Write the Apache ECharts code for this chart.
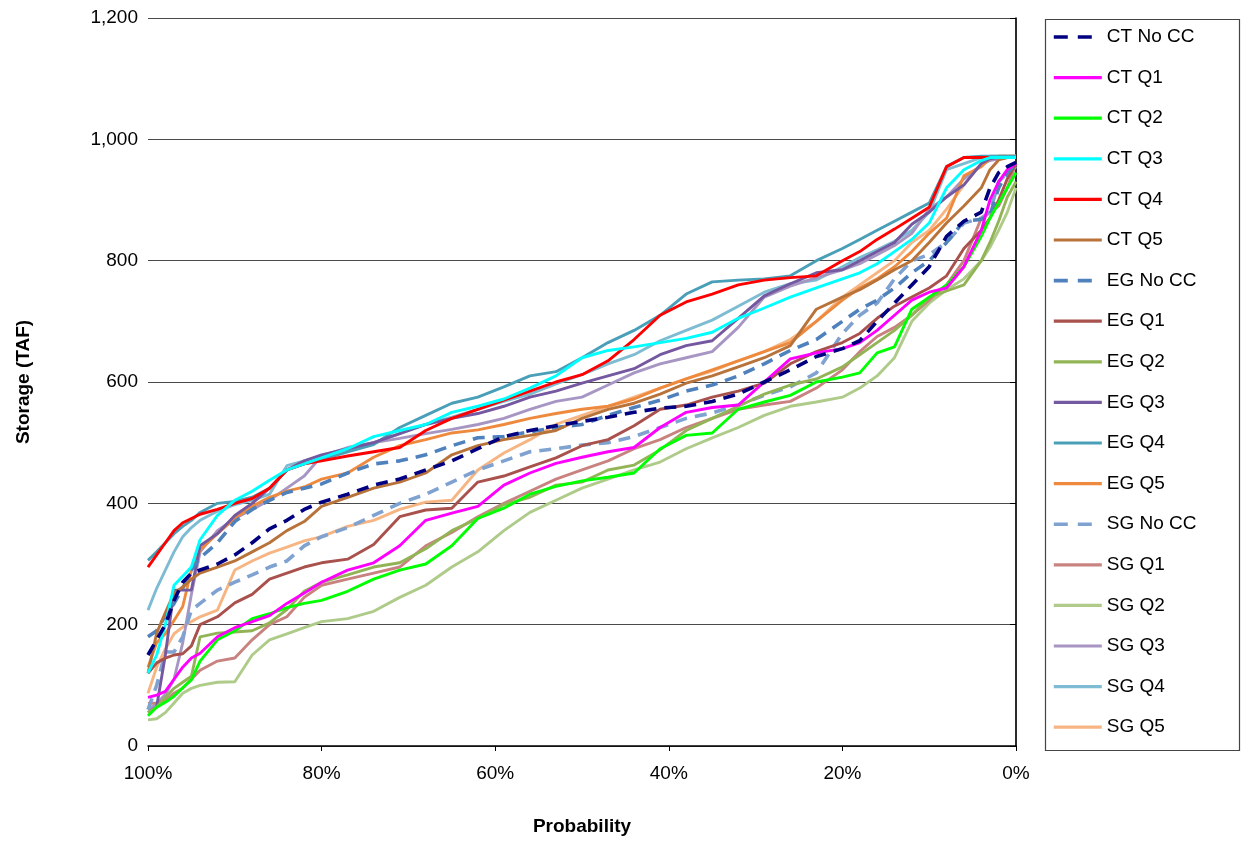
<!DOCTYPE html>
<html>
<head>
<meta charset="utf-8">
<script src="https://cdn.jsdelivr.net/npm/echarts@6/dist/echarts.min.js"></script>
<style>html,body{margin:0;padding:0;background:#fff}#c{width:1241px;height:847px}</style>
</head>
<body>
<div id="c"></div>
<script>
// Exceedance probability (%)
const probability = [100, 99, 98, 97, 96, 95, 94, 92, 90, 88, 86, 84, 82, 80, 77, 74, 71, 68, 65, 62, 59, 56, 53, 50, 47, 44, 41, 38, 35, 32, 29, 26, 23, 20, 18, 16, 14, 12, 10, 8, 6, 4, 3, 2, 1, 0];

const ctNoCC = [150,175,200,240,270,285,290,300,315,335,358,372,390,402,415,430,440,455,470,490,510,520,528,535,542,550,557,560,568,580,600,620,642,655,668,700,730,760,790,840,865,880,920,945,955,962];
const ctQ1 = [80,84,90,110,130,145,153,180,195,205,215,235,252,270,290,302,330,372,384,395,430,450,466,476,485,492,525,550,558,562,600,638,648,655,665,685,710,735,748,755,790,850,900,930,950,960];
const ctQ2 = [50,64,72,82,96,109,140,175,190,210,218,228,235,240,255,275,290,300,330,375,392,415,428,437,443,450,490,512,516,555,567,578,600,608,615,648,658,720,740,760,790,840,870,895,920,945];
const ctQ3 = [120,150,200,265,280,295,340,380,405,420,438,455,465,475,490,510,520,530,550,560,572,590,610,640,652,658,665,672,682,705,722,740,755,770,780,795,815,835,862,920,950,965,970,970,970,970];
const ctQ4 = [295,315,335,355,368,375,382,390,400,408,425,455,465,470,478,485,492,520,540,555,570,585,600,612,635,670,710,732,745,760,768,772,775,800,815,835,852,870,888,955,970,970,970,970,970,970];
const ctQ5 = [120,186,220,252,262,275,285,295,305,320,335,355,370,395,410,425,435,450,480,495,505,512,520,540,555,565,580,598,610,625,640,660,720,740,752,768,785,800,830,862,890,920,950,966,970,970];
const egNoCC = [180,190,215,235,260,290,310,335,370,390,405,418,425,432,450,465,470,480,495,508,510,518,525,530,545,558,570,585,595,610,630,652,670,700,720,735,755,780,800,830,865,868,875,920,945,960];
const egQ1 = [120,137,145,150,152,165,200,213,236,250,275,285,295,302,308,332,378,389,392,435,445,460,475,495,505,528,555,562,575,585,598,630,650,665,680,705,725,740,755,775,820,850,870,900,935,960];
const egQ2 = [55,64,80,95,105,115,180,186,188,190,203,225,255,270,282,295,302,325,355,375,398,410,430,435,455,463,488,520,540,560,580,595,605,625,645,665,685,710,740,750,760,800,830,865,905,930];
const egQ3 = [55,65,150,257,257,257,330,350,380,400,425,455,470,480,490,500,515,530,540,548,560,575,585,598,610,622,645,660,668,705,742,762,780,785,800,815,830,860,880,905,925,960,968,970,970,970];
const egQ4 = [306,320,335,350,362,372,385,400,403,410,425,455,465,472,485,497,525,545,565,575,592,610,617,640,665,685,710,745,765,768,770,775,800,820,835,850,865,880,895,955,970,972,972,972,972,972];
const egQ5 = [130,170,185,207,230,290,323,350,375,395,410,420,427,440,450,476,495,505,516,521,530,540,548,555,560,572,590,605,620,635,650,665,700,735,755,770,790,815,845,870,940,955,968,972,972,972];
const sgNoCC = [60,100,155,155,180,224,235,257,270,282,295,305,330,345,360,380,400,415,435,455,470,485,490,496,500,510,525,540,549,562,578,592,615,680,710,730,770,800,810,830,862,870,880,930,945,955];
const sgQ1 = [70,71,75,87,95,110,125,140,145,175,200,213,245,265,275,285,295,330,352,378,400,420,440,455,470,490,505,525,540,555,562,568,590,620,650,675,690,710,735,760,800,870,880,890,920,960];
const sgQ2 = [43,45,55,71,87,95,100,105,106,150,175,185,195,205,210,222,245,265,295,320,355,385,405,425,440,455,468,490,508,525,545,560,567,575,590,610,640,700,730,752,770,800,822,850,880,920];
const sgQ3 = [60,70,85,110,170,250,320,355,375,390,405,425,445,478,492,500,507,515,522,530,540,555,568,575,595,615,630,640,650,690,740,758,772,785,795,810,825,845,885,905,935,958,965,968,970,970];
const sgQ4 = [224,260,290,320,345,360,372,387,398,405,415,462,470,478,490,500,515,530,542,555,568,580,597,612,630,645,668,685,702,725,748,762,768,790,805,818,832,850,880,950,960,970,972,972,972,972];
const sgQ5 = [87,130,160,185,196,205,213,224,290,305,318,328,338,345,362,372,390,402,405,455,483,505,530,545,560,575,590,605,618,635,650,670,700,740,760,780,800,830,850,885,925,960,970,972,972,972];

const seriesNames = ['CT No CC','CT Q1','CT Q2','CT Q3','CT Q4','CT Q5','EG No CC','EG Q1','EG Q2','EG Q3','EG Q4','EG Q5','SG No CC','SG Q1','SG Q2','SG Q3','SG Q4','SG Q5'];
const seriesValues = [ctNoCC,ctQ1,ctQ2,ctQ3,ctQ4,ctQ5,egNoCC,egQ1,egQ2,egQ3,egQ4,egQ5,sgNoCC,sgQ1,sgQ2,sgQ3,sgQ4,sgQ5];
const seriesColors = ['#000080','#FF00FF','#00FF00','#00FFFF','#FF0000','#B8733A','#4F81BD','#A9514C','#92B456','#7458A0','#4A9FB8','#EE8A3E','#7FA2D0','#C88380','#AECB8A','#A796C4','#7DBCD2','#F6B583'];
const seriesDashed = [true,false,false,false,false,false,true,false,false,false,false,false,true,false,false,false,false,false];

const yTicks = [0, 200, 400, 600, 800, 1000, 1200];

const FONT = '"Liberation Sans", Arial, sans-serif';

const series = seriesNames.map((name, i) => ({
  name: name,
  type: 'line',
  symbol: 'none',
  z: 20 - i,
  data: probability.map((p, k) => [p, seriesValues[i][k]]),
  lineStyle: {
    color: seriesColors[i],
    width: seriesDashed[i] ? 3.6 : 2.9,
    type: seriesDashed[i] ? [12, 8] : 'solid'
  },
  itemStyle: { color: seriesColors[i] },
  emphasis: { disabled: true }
}));

const legendData = seriesNames.map((name, i) => ({
  name: name,
  lineStyle: seriesDashed[i]
    ? { width: 3.6, type: [14, 10], dashOffset: 0 }
    : { width: 3.2, type: 'solid' }
}));

const chart = echarts.init(document.getElementById('c'), null, { renderer: 'canvas' });
chart.setOption({
  animation: false,
  backgroundColor: '#fff',
  textStyle: { fontFamily: FONT },
  grid: { left: 148, right: 225, top: 18, bottom: 101, containLabel: false },
  xAxis: {
    type: 'value', min: 0, max: 100, interval: 20, inverse: true,
    name: 'Probability', nameLocation: 'middle', nameGap: 71,
    nameTextStyle: { fontSize: 19, fontWeight: 'bold', color: '#000', fontFamily: FONT },
    axisLine: { show: true, lineStyle: { color: '#000', width: 1.5 } },
    axisTick: { show: true, length: 5, inside: false, lineStyle: { color: '#000' } },
    axisLabel: { formatter: '{value}%', fontSize: 19, color: '#000', margin: 18, fontFamily: FONT },
    splitLine: { show: false }
  },
  yAxis: {
    type: 'value', min: yTicks[0], max: yTicks[yTicks.length - 1], interval: 200,
    name: 'Storage (TAF)', nameLocation: 'middle', nameGap: 115, nameRotate: 90,
    nameTextStyle: { fontSize: 19, fontWeight: 'bold', color: '#000', fontFamily: FONT },
    axisLine: { show: true, lineStyle: { color: '#000', width: 1.5 } },
    axisTick: { show: true, length: 6, lineStyle: { color: '#000' } },
    axisLabel: { fontSize: 19, color: '#000', margin: 10, fontFamily: FONT,
      formatter: v => v.toLocaleString('en-US') },
    splitLine: { show: true, lineStyle: { color: '#4a4a4a', width: 1.2 } }
  },
  legend: {
    orient: 'vertical', left: 1047, top: 21, padding: 5,
    itemWidth: 48, itemHeight: 14, itemGap: 18.6,
    itemStyle: { opacity: 0 },
    textStyle: { fontSize: 19, color: '#000', lineHeight: 22, fontFamily: FONT },
    data: legendData,
    selectedMode: false
  },
  graphic: [
    { type: 'rect', left: 1043, top: 17, shape: { width: 194, height: 731 },
      style: { fill: 'none', stroke: '#444', lineWidth: 1.2 }, silent: true },
    { type: 'line', shape: { x1: 1016, y1: 18, x2: 1016, y2: 746 },
      style: { stroke: '#b0b0b0', lineWidth: 2 }, silent: true }
  ],
  series: series
});
</script>
</body>
</html>
